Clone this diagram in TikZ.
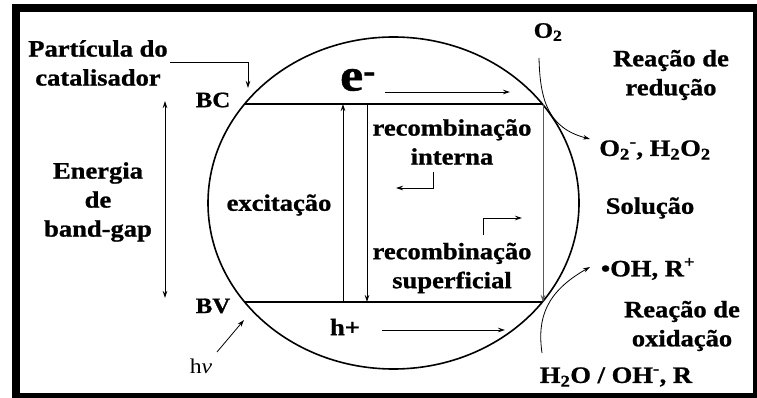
\documentclass[tikz,border=0pt]{standalone}
\usepackage{fontspec}
\setmainfont{Liberation Serif}[FakeStretch=1.13, BoldFeatures={FakeBold=1}]
\usetikzlibrary{shapes.geometric,arrows.meta}
\tikzset{
  lbl/.style={font=\fontsize{23.5}{29}\selectfont\bfseries, align=center, inner sep=0pt},
  sml/.style={font=\fontsize{22}{26}\selectfont\bfseries, inner sep=0pt},
  band/.style={line width=1.4pt},
  thin/.style={line width=0.8pt},
  arr/.style={thin, -{Stealth[length=7pt,width=4.5pt]}},
  darr/.style={thin, {Stealth[length=7pt,width=4.5pt]}-{Stealth[length=7pt,width=4.5pt]}},
}
\begin{document}
\begin{tikzpicture}[x=1pt,y=-1pt]
\useasboundingbox (0,0) rectangle (757,398);
\fill[white] (0,0) rectangle (757,398);
\draw[line width=8pt] (16,8) rectangle (757,397);
% particle
\node (p) [ellipse, draw, line width=1.6pt, minimum width=371pt, minimum height=332pt, inner sep=0pt] at (393.5,203) {};
% band edges
\coordinate (bcL) at (244.5,104);
\coordinate (bcR) at (543,104);
\coordinate (bvL) at (244.5,302);
\coordinate (bvR) at (543,302);
\draw[band] (bcL) -- (bcR);
\draw[band] (bvL) -- (bvR);
% vertical arrows
\coordinate (exB) at (343,302);
\coordinate (exT) at (343,104);
\draw[arr] (exB) -- (exT);
\coordinate (riT) at (367,104);
\coordinate (riB) at (367,302);
\draw[arr] (riT) -- (riB);
\draw[arr, gray!70!black] (bcR) -- (bvR);
% labels inside
\node (e) [inner sep=0pt, font=\fontsize{46}{46}\selectfont\bfseries] at (358,80) {e\textsuperscript{-}};
\coordinate (eA) at (385,92);
\coordinate (eB) at (510,92);
\draw[arr] (eA) -- (eB);
\node (ri) [lbl] at (452,142) {recombinação\\interna};
\coordinate (b1a) at (433,172);
\coordinate (b1b) at (396,188);
\draw[arr] (b1a) |- (b1b);
\node (ex) [lbl] at (279,205) {excitação};
\coordinate (b2a) at (483,235);
\coordinate (b2b) at (522,218);
\draw[arr] (b2a) |- (b2b);
\node (rs) [lbl] at (452,268) {recombinação\\superficial};
\node (h) [lbl] at (345,327) {h+};
\coordinate (hA) at (382,330);
\coordinate (hB) at (505,330);
\draw[arr] (hA) -- (hB);
% left side
\node (bc) [sml] at (213,100) {BC};
\node (bv) [sml] at (213,306) {BV};
\node (pc) [lbl] at (98,63) {Partícula do\\catalisador};
\coordinate (pcA) at (170,62);
\coordinate (pcB) at (248,88);
\draw[arr] (pcA) -| (pcB);
\coordinate (bgT) at (165,101);
\coordinate (bgB) at (165,298);
\draw[darr] (bgT) -- (bgB);
\node (bg) [lbl] at (98,202) {Energia\\de\\band-gap};
\node (hv) [inner sep=0pt, font=\fontsize{21}{24}\selectfont] at (201,366) {h\textit{ν}};
\coordinate (hvA) at (217,352);
\coordinate (hvB) at (244,320);
\draw[arr] (hvA) -- (hvB);
% right side
\node (o2) [sml] at (548,32) {O\textsubscript{2}};
\coordinate (o2a) at (539,58);
\coordinate (o2b) at (590,139);
\draw[arr] (o2a) .. controls (540,100) and (548,128) .. (o2b);
\node (prod1) [lbl] at (655,150) {O\textsubscript{2}\textsuperscript{-}, H\textsubscript{2}O\textsubscript{2}};
\node (red) [lbl] at (671,75) {Reação de\\redução};
\node (sol) [lbl] at (650,208) {Solução};
\node (prod2) [lbl] at (648,269) {•OH, R\textsuperscript{+}};
\node (oxi) [lbl] at (682,326) {Reação de\\oxidação};
\node (reag) [lbl] at (616,377) {H\textsubscript{2}O / OH\textsuperscript{-}, R};
\coordinate (oxa) at (542,353);
\coordinate (oxb) at (590,267);
\draw[arr] (oxa) .. controls (537,318) and (546,292) .. (oxb);
\end{tikzpicture}
\end{document}
